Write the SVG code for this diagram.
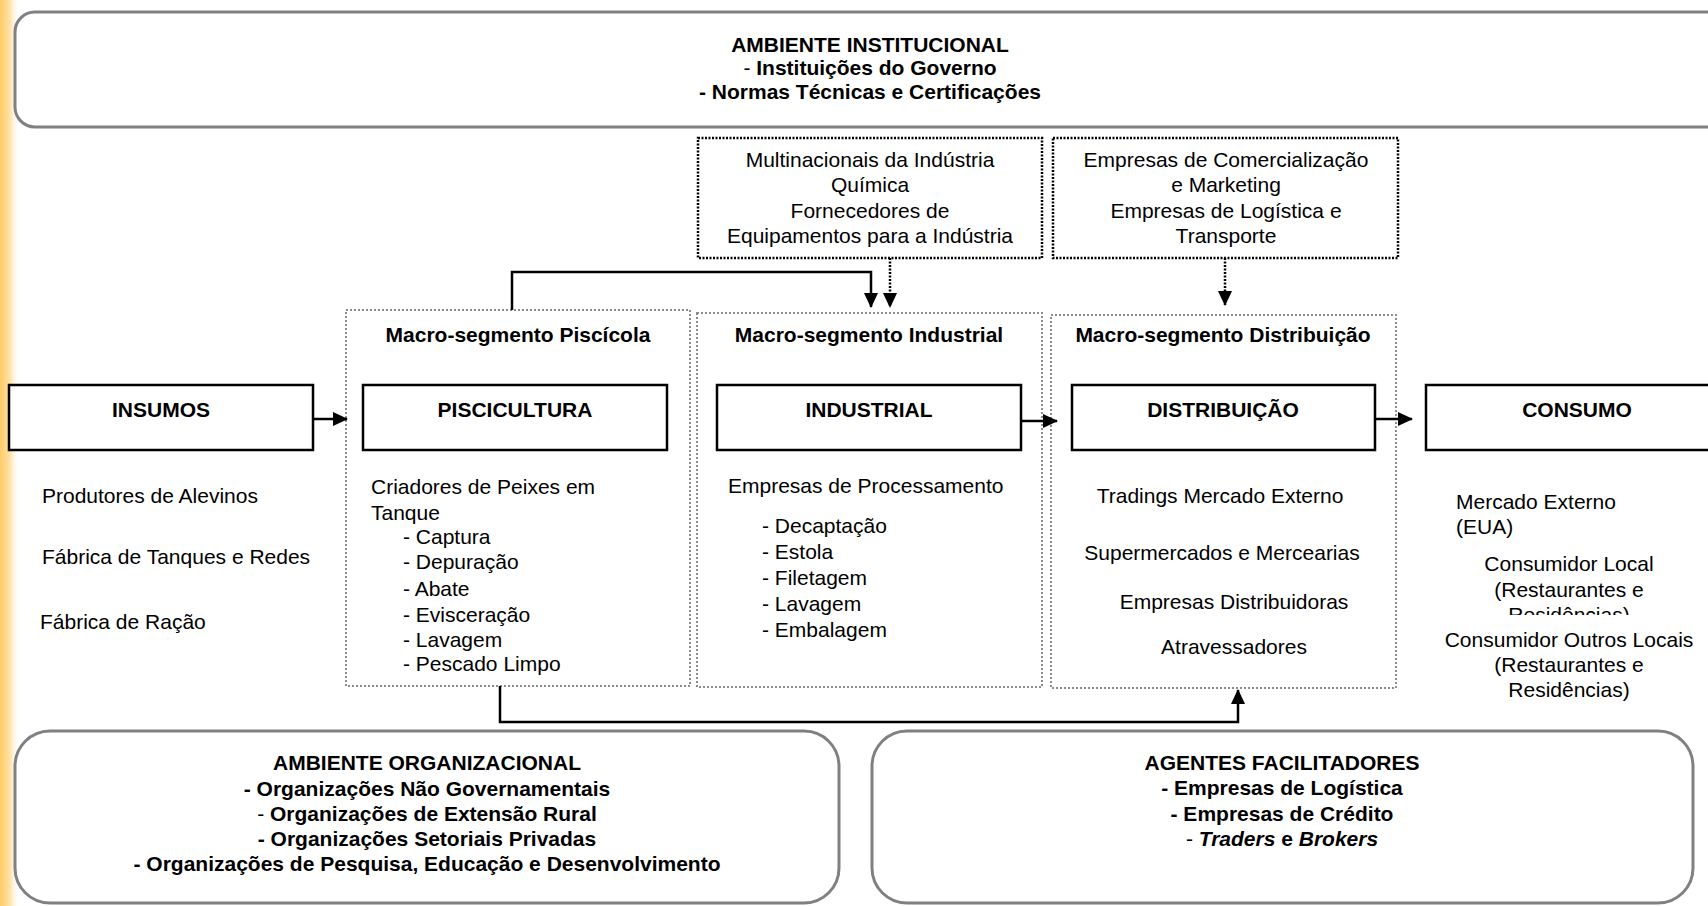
<svg xmlns="http://www.w3.org/2000/svg" width="1708" height="906" viewBox="0 0 1708 906">
<defs>
  <linearGradient id="strip" x1="0" x2="1" y1="0" y2="0">
    <stop offset="0" stop-color="#FFCC66"/>
    <stop offset="0.5" stop-color="#FFE2A8"/>
    <stop offset="1" stop-color="#FFFFFF" stop-opacity="0"/>
  </linearGradient>
  <marker id="ah" markerUnits="userSpaceOnUse" markerWidth="15" markerHeight="14" refX="14" refY="7" orient="auto" viewBox="0 0 15 14">
    <path d="M0,0 L15,7 L0,14 z" fill="#000"/>
  </marker>
  <clipPath id="clipRes"><rect x="1400" y="590" width="300" height="25"/></clipPath>
  <style>
    text { font-family: "Liberation Sans", Arial, sans-serif; font-size: 21px; fill: #000; }
    .b { font-weight: bold; }
    .n { font-weight: normal; }
    .i { font-style: italic; }
    .c { text-anchor: middle; }
    .round { fill: #fff; stroke: #808080; stroke-width: 3; }
    .solid { fill: #fff; stroke: #000; stroke-width: 2.5; }
    .macro { fill: none; stroke: #8c8c8c; stroke-width: 2; stroke-dasharray: 2 2; }
    .ext { fill: #fff; stroke: #000; stroke-width: 2.5; stroke-dasharray: 2 1.5; }
    .conn { fill: none; stroke: #000; stroke-width: 2.5; }
    .dconn { fill: none; stroke: #000; stroke-width: 2.5; stroke-dasharray: 2 1.5; }
  </style>
</defs>
<rect x="0" y="0" width="1708" height="906" fill="#fff"/>
<rect x="0" y="0" width="20" height="906" fill="url(#strip)"/>

<g id="ambiente-institucional">
  <rect class="round" x="15" y="12" width="1760" height="115" rx="20"/>
  <text class="b c" x="870" y="52">AMBIENTE INSTITUCIONAL</text>
  <text class="c" x="870" y="75"><tspan class="n">- </tspan><tspan class="b">Instituições do Governo</tspan></text>
  <text class="b c" x="870" y="99">- Normas Técnicas e Certificações</text>
</g>

<g id="multinacionais">
  <rect class="ext" x="698" y="138" width="344" height="120"/>
  <text class="c" x="870" y="167">Multinacionais da Indústria</text>
  <text class="c" x="870" y="192">Química</text>
  <text class="c" x="870" y="218">Fornecedores de</text>
  <text class="c" x="870" y="243">Equipamentos para a Indústria</text>
</g>

<g id="comercializacao">
  <rect class="ext" x="1053" y="138" width="345" height="120"/>
  <text class="c" x="1226" y="167">Empresas de Comercialização</text>
  <text class="c" x="1226" y="192">e Marketing</text>
  <text class="c" x="1226" y="218">Empresas de Logística e</text>
  <text class="c" x="1226" y="243">Transporte</text>
</g>

<g id="macro-piscicola">
  <rect class="macro" x="346" y="310" width="344" height="376"/>
  <text class="b c" x="518" y="342">Macro-segmento Piscícola</text>
</g>
<g id="macro-industrial">
  <rect class="macro" x="697" y="313" width="345" height="374"/>
  <text class="b c" x="869" y="342">Macro-segmento Industrial</text>
</g>
<g id="macro-distribuicao">
  <rect class="macro" x="1051" y="315" width="345" height="373"/>
  <text class="b c" x="1223" y="342">Macro-segmento Distribuição</text>
</g>

<g id="insumos">
  <rect class="solid" x="9" y="385" width="304" height="65"/>
  <text class="b c" x="161" y="417">INSUMOS</text>
  <text x="42" y="503">Produtores de Alevinos</text>
  <text x="42" y="564">Fábrica de Tanques e Redes</text>
  <text x="40" y="629">Fábrica de Ração</text>
</g>

<g id="piscicultura">
  <rect class="solid" x="363" y="385" width="304" height="65"/>
  <text class="b c" x="515" y="417">PISCICULTURA</text>
  <text x="371" y="494">Criadores de Peixes em</text>
  <text x="371" y="520">Tanque</text>
  <text x="403" y="544">- Captura</text>
  <text x="403" y="569">- Depuração</text>
  <text x="403" y="596">- Abate</text>
  <text x="403" y="622">- Evisceração</text>
  <text x="403" y="647">- Lavagem</text>
  <text x="403" y="671">- Pescado Limpo</text>
</g>

<g id="industrial">
  <rect class="solid" x="717" y="385" width="304" height="65"/>
  <text class="b c" x="869" y="417">INDUSTRIAL</text>
  <text x="728" y="493">Empresas de Processamento</text>
  <text x="762" y="533">- Decaptação</text>
  <text x="762" y="559">- Estola</text>
  <text x="762" y="585">- Filetagem</text>
  <text x="762" y="611">- Lavagem</text>
  <text x="762" y="637">- Embalagem</text>
</g>

<g id="distribuicao">
  <rect class="solid" x="1072" y="385" width="303" height="65"/>
  <text class="b c" x="1223" y="417">DISTRIBUIÇÃO</text>
  <text class="c" x="1220" y="503">Tradings Mercado Externo</text>
  <text class="c" x="1222" y="560">Supermercados e Mercearias</text>
  <text class="c" x="1234" y="609">Empresas Distribuidoras</text>
  <text class="c" x="1234" y="654">Atravessadores</text>
</g>

<g id="consumo">
  <rect class="solid" x="1426" y="385" width="304" height="65"/>
  <text class="b c" x="1577" y="417">CONSUMO</text>
  <text x="1456" y="509">Mercado Externo</text>
  <text x="1456" y="534">(EUA)</text>
  <text class="c" x="1569" y="571">Consumidor Local</text>
  <text class="c" x="1569" y="597">(Restaurantes e</text>
  <text class="c" x="1569" y="622" clip-path="url(#clipRes)">Residências)</text>
  <text class="c" x="1569" y="647">Consumidor Outros Locais</text>
  <text class="c" x="1569" y="672">(Restaurantes e</text>
  <text class="c" x="1569" y="697">Residências)</text>
</g>

<g id="ambiente-organizacional">
  <rect class="round" x="15" y="731" width="824" height="172" rx="35"/>
  <text class="b c" x="427" y="770">AMBIENTE ORGANIZACIONAL</text>
  <text class="b c" x="427" y="796">- Organizações Não Governamentais</text>
  <text class="c" x="427" y="821"><tspan class="n">- </tspan><tspan class="b">Organizações de Extensão Rural</tspan></text>
  <text class="b c" x="427" y="846">- Organizações Setoriais Privadas</text>
  <text class="b c" x="427" y="871">- Organizações de Pesquisa, Educação e Desenvolvimento</text>
</g>

<g id="agentes-facilitadores">
  <rect class="round" x="872" y="731" width="821" height="172" rx="35"/>
  <text class="b c" x="1282" y="770">AGENTES FACILITADORES</text>
  <text class="b c" x="1282" y="795">- Empresas de Logística</text>
  <text class="b c" x="1282" y="821">- Empresas de Crédito</text>
  <text class="c" x="1282" y="846"><tspan class="n">- </tspan><tspan class="b i">Traders</tspan><tspan class="b"> e </tspan><tspan class="b i">Brokers</tspan></text>
</g>

<g id="connectors">
  <line class="conn" x1="313" y1="419" x2="347" y2="419" marker-end="url(#ah)"/>
  <line class="conn" x1="1021" y1="421" x2="1057" y2="421" marker-end="url(#ah)"/>
  <line class="conn" x1="1375" y1="419" x2="1412" y2="419" marker-end="url(#ah)"/>
  <path class="conn" d="M512,310 V272 H871 V307" marker-end="url(#ah)"/>
  <line class="dconn" x1="890" y1="258" x2="890" y2="307" marker-end="url(#ah)"/>
  <line class="dconn" x1="1225" y1="258" x2="1225" y2="305" marker-end="url(#ah)"/>
  <path class="conn" d="M500,686 V722 H1238 V690" marker-end="url(#ah)"/>
</g>
</svg>
